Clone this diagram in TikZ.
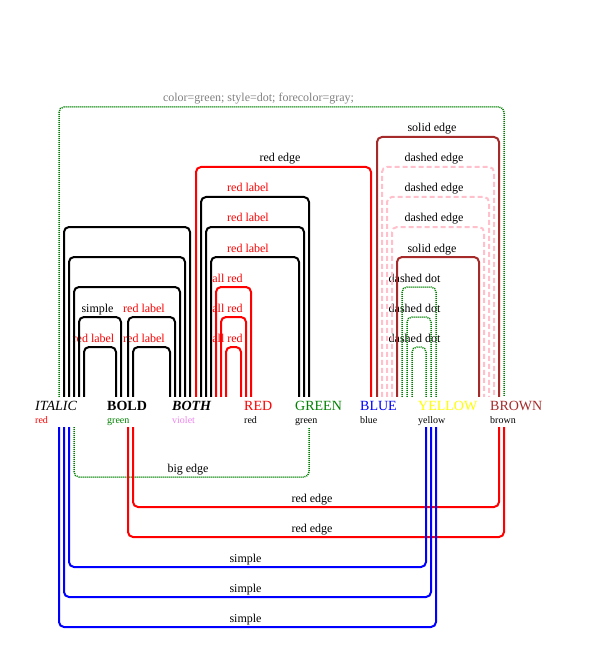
\documentclass[tikz,border=0pt]{standalone}
\usepackage{fontspec}
\setmainfont{Liberation Serif}
\usepackage{xcolor}
\usepackage{tikz}
\definecolor{arcgreen}{RGB}{0,128,0}
\definecolor{arcbrown}{RGB}{165,42,42}
\definecolor{arcpink}{RGB}{255,192,203}
\definecolor{arcviolet}{RGB}{238,130,238}
\definecolor{arcgray}{RGB}{128,128,128}
\definecolor{arcyellow}{RGB}{255,255,0}

\tikzset{
  word/.style={anchor=base west, inner sep=0pt, text height=13pt},
  tag/.style={anchor=base west, inner sep=0pt, text depth=4pt, font=\fontsize{10}{12}\selectfont},
  lbl/.style={anchor=base, inner sep=0pt, font=\fontsize{12}{14}\selectfont},
  edge/.style={line width=2pt, rounded corners=5pt},
  dotedge/.style={edge, line width=1.5pt, arcgreen, dash pattern=on 1pt off 1pt},
  dashedge/.style={edge, arcpink, dash pattern=on 5pt off 3pt}
}

\begin{document}
\begin{tikzpicture}[x=1pt, y=-1pt]
\useasboundingbox (0,0) rectangle (600,660);

% Words
\node[word, font=\fontsize{14}{16}\selectfont\itshape] (italic) at (35,410) {ITALIC};
\node[word, font=\fontsize{14}{16}\selectfont\bfseries] (bold) at (107,410) {BOLD};
\node[word, font=\fontsize{14}{16}\selectfont\bfseries\itshape] (both) at (172,410) {BOTH};
\node[word, font=\fontsize{14}{16}\selectfont, red] (red) at (244,410) {RED};
\node[word, font=\fontsize{14}{16}\selectfont, arcgreen] (green) at (295,410) {GREEN};
\node[word, font=\fontsize{14}{16}\selectfont, blue] (blue) at (360,410) {BLUE};
\node[word, font=\fontsize{14}{16}\selectfont, arcyellow] (yellow) at (418,410) {YELLOW};
\node[word, font=\fontsize{14}{16}\selectfont, arcbrown] (brown) at (490,410) {BROWN};

% Tags
\node[tag, red] (italictag) at ([yshift=-13pt]italic.base west) {red};
\node[tag, arcgreen] (boldtag) at ([yshift=-13pt]bold.base west) {green};
\node[tag, arcviolet] (bothtag) at ([yshift=-13pt]both.base west) {violet};
\node[tag] (redtag) at ([yshift=-13pt]red.base west) {red};
\node[tag] (greentag) at ([yshift=-13pt]green.base west) {green};
\node[tag] (bluetag) at ([yshift=-13pt]blue.base west) {blue};
\node[tag] (yellowtag) at ([yshift=-13pt]yellow.base west) {yellow};
\node[tag] (browntag) at ([yshift=-13pt]brown.base west) {brown};

% Labels above
\node[lbl, arcgray] (l1) at (258.5,102) {color=green; style=dot; forecolor=gray;};
\node[lbl] (l2) at (432,132) {solid edge};
\node[lbl] (l3) at (280,162) {red edge};
\node[lbl] (l4) at (434,162) {dashed edge};
\node[lbl, red] (l5) at (248,192) {red label};
\node[lbl] (l6) at (434,192) {dashed edge};
\node[lbl, red] (l7) at (248,222) {red label};
\node[lbl] (l8) at (434,222) {dashed edge};
\node[lbl, red] (l9) at (248,252) {red label};
\node[lbl] (l10) at (432,252) {solid edge};
\node[lbl, red] (l11) at (227.5,282) {all red};
\node[lbl] (l12) at (414.5,282) {dashed dot};
\node[lbl] (l13) at (97.5,312) {simple};
\node[lbl, red] (l14) at (144,312) {red label};
\node[lbl, red] (l15) at (227.5,312) {all red};
\node[lbl] (l16) at (414.5,312) {dashed dot};
\node[lbl, red] (l17) at (93.5,342) {red label};
\node[lbl, red] (l18) at (144,342) {red label};
\node[lbl, red] (l19) at (227.5,342) {all red};
\node[lbl] (l20) at (414.5,342) {dashed dot};

% Labels below
\node[lbl] (l21) at (188,472) {big edge};
\node[lbl] (l22) at (312,502) {red edge};
\node[lbl] (l23) at (312,532) {red edge};
\node[lbl] (l24) at (245.5,562) {simple};
\node[lbl] (l25) at (245.5,592) {simple};
\node[lbl] (l26) at (245.5,622) {simple};

% Arcs above
\draw[dotedge] (59,0 |- italic.north) |- (504,107) -- (504,0 |- brown.north);
\draw[edge, arcbrown] (377,0 |- blue.north) |- (499,137) -- (499,0 |- brown.north);
\draw[edge, red] (196,0 |- both.north) |- (371,167) -- (371,0 |- blue.north);
\draw[dashedge] (382,0 |- blue.north) |- (494,167) -- (494,0 |- brown.north);
\draw[edge] (201,0 |- both.north) |- (309,197) -- (309,0 |- green.north);
\draw[dashedge] (387,0 |- blue.north) |- (489,197) -- (489,0 |- brown.north);
\draw[edge] (206,0 |- both.north) |- (304,227) -- (304,0 |- green.north);
\draw[dashedge] (392,0 |- blue.north) |- (484,227) -- (484,0 |- brown.north);
\draw[edge] (64,0 |- italic.north) |- (190,227) -- (190,0 |- both.north);
\draw[edge] (211,0 |- both.north) |- (299,257) -- (299,0 |- green.north);
\draw[edge, arcbrown] (397,0 |- blue.north) |- (479,257) -- (479,0 |- brown.north);
\draw[edge] (69,0 |- italic.north) |- (185,257) -- (185,0 |- both.north);
\draw[edge, red] (216,0 |- both.north) |- (251,287) -- (251,0 |- red.north);
\draw[dotedge] (402,0 |- blue.north) |- (436,287) -- (436,0 |- yellow.north);
\draw[edge] (74,0 |- italic.north) |- (180,287) -- (180,0 |- both.north);
\draw[edge] (79,0 |- italic.north) |- (121,317) -- (121,0 |- bold.north);
\draw[edge] (128,0 |- bold.north) |- (175,317) -- (175,0 |- both.north);
\draw[edge, red] (221,0 |- both.north) |- (246,317) -- (246,0 |- red.north);
\draw[dotedge] (407,0 |- blue.north) |- (431,317) -- (431,0 |- yellow.north);
\draw[edge] (84,0 |- italic.north) |- (116,347) -- (116,0 |- bold.north);
\draw[edge] (133,0 |- bold.north) |- (170,347) -- (170,0 |- both.north);
\draw[edge, red] (226,0 |- both.north) |- (241,347) -- (241,0 |- red.north);
\draw[dotedge] (412,0 |- blue.north) |- (426,347) -- (426,0 |- yellow.north);

% Arcs below
\draw[dotedge] (74,0 |- italictag.south) |- (309,477) -- (309,0 |- greentag.south);
\draw[edge, red] (133,0 |- boldtag.south) |- (499,507) -- (499,0 |- browntag.south);
\draw[edge, red] (128,0 |- boldtag.south) |- (504,537) -- (504,0 |- browntag.south);
\draw[edge, blue] (69,0 |- italictag.south) |- (426,567) -- (426,0 |- yellowtag.south);
\draw[edge, blue] (64,0 |- italictag.south) |- (431,597) -- (431,0 |- yellowtag.south);
\draw[edge, blue] (59,0 |- italictag.south) |- (436,627) -- (436,0 |- yellowtag.south);

\end{tikzpicture}
\end{document}
